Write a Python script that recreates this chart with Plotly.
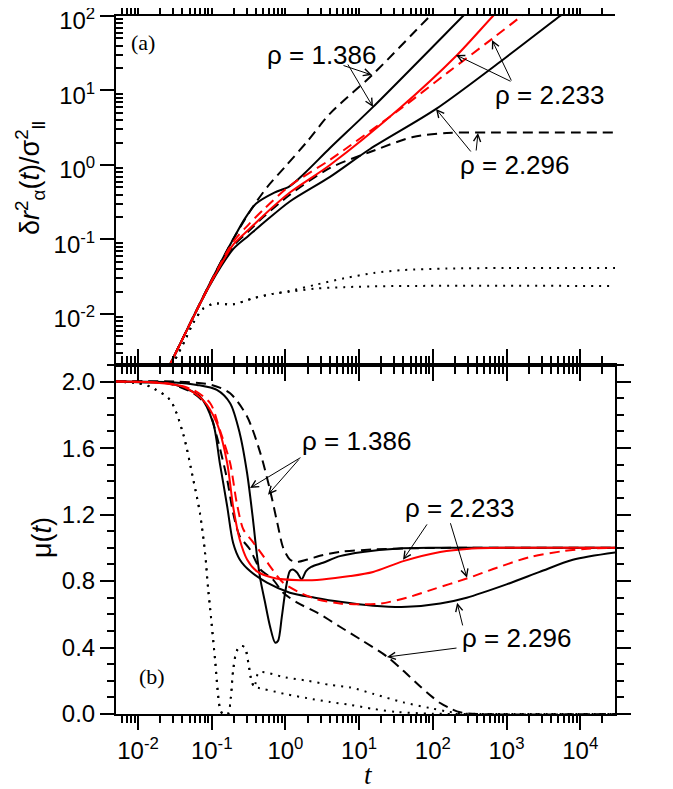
import numpy as np
import plotly.graph_objects as go
from plotly.subplots import make_subplots

# ---------------- panel (a): log10(t) vs log10(MSD) ----------------
a_d1386_logt = [-1.6, -1.0, -0.711, -0.48, -0.25, 0.0, 0.3, 0.605, 1.18, 1.962, 2.3]
a_d1386_logy = [-2.75, -1.54, -1.0, -0.62, -0.30, -0.02, 0.32, 0.69, 1.21, 2.0, 2.33]

a_s1386_logt = [-1.6, -1.0, -0.7, -0.55, -0.4, -0.15, 0.05, 0.25, 0.605, 1.19, 2.41, 2.6]
a_s1386_logy = [-2.75, -1.54, -0.98, -0.72, -0.52, -0.37, -0.29, -0.12, 0.228, 0.78, 2.0, 2.19]

a_d2233_logt = [-1.6, -1.0, -0.7, -0.5, -0.3, 0.06, 0.605, 1.596, 2.2, 2.8, 3.4]
a_d2233_logy = [-2.75, -1.55, -1.02, -0.80, -0.60, -0.28, 0.07, 0.778, 1.24, 1.69, 2.15]

a_s2233_logt = [-1.6, -1.0, -0.7, -0.5, -0.3, 0.06, 0.605, 1.555, 2.33, 2.817, 3.0]
a_s2233_logy = [-2.75, -1.56, -1.06, -0.87, -0.68, -0.37, 0.0, 0.765, 1.477, 2.0, 2.18]

a_d2296_logt = [-1.6, -1.0, -0.7, -0.5, -0.3, 0.06, 0.605, 1.148, 1.731, 2.19, 2.8, 4.5]
a_d2296_logy = [-2.75, -1.56, -1.08, -0.89, -0.70, -0.40, -0.04, 0.174, 0.376, 0.43, 0.435, 0.435]

a_s2296_logt = [-1.6, -1.0, -0.7, -0.5, -0.3, 0.06, 0.605, 1.148, 2.04, 3.0, 3.726, 4.0]
a_s2296_logy = [-2.75, -1.57, -1.12, -0.95, -0.78, -0.49, -0.16, 0.215, 0.75, 1.45, 2.0, 2.2]

a_dot_hi_logt = [-1.6, -1.5, -1.35, -1.25, -1.118, -1.0, -0.93, -0.71, -0.44, -0.17, 0.06,
                 0.4, 0.8, 1.2, 1.6, 2.2, 3.0, 4.5]
a_dot_hi_logy = [-2.78, -2.62, -2.33, -2.12, -1.93, -1.87, -1.86, -1.87, -1.79, -1.73, -1.69,
                 -1.61, -1.52, -1.45, -1.41, -1.39, -1.383, -1.383]
a_dot_lo_logt = [-1.6, -1.5, -1.35, -1.25, -1.118, -1.0, -0.93, -0.71, -0.44, -0.17, 0.06,
                 0.4, 0.8, 1.5, 4.5]
a_dot_lo_logy = [-2.78, -2.62, -2.33, -2.12, -1.93, -1.87, -1.86, -1.87, -1.79, -1.73, -1.70,
                 -1.66, -1.64, -1.625, -1.624]

# ---------------- panel (b): log10(t) vs mu(t) ----------------
b_d1386_logt = [-2.3, -1.5, -1.0, -0.75, -0.52, -0.34, -0.21, -0.11, -0.03, 0.06, 0.15,
                0.3, 0.5, 0.74, 1.2, 1.8, 2.5, 4.5]
b_d1386_mu = [2.0, 2.0, 1.98, 1.93, 1.79, 1.57, 1.35, 1.15, 1.0, 0.93, 0.915,
              0.93, 0.955, 0.976, 0.99, 0.998, 1.0, 1.0]

b_s1386_logt = [-2.3, -1.5, -1.2, -0.93, -0.75, -0.62, -0.52, -0.44, -0.39, -0.34, -0.28,
                -0.21, -0.14, -0.1, -0.05, 0.0, 0.06, 0.1, 0.16, 0.22, 0.28, 0.35, 0.51,
                0.74, 1.05, 1.5, 2.0, 4.5]
b_s1386_mu = [2.0, 1.995, 1.98, 1.95, 1.87, 1.69, 1.45, 1.17, 0.97, 0.81, 0.68,
              0.53, 0.43, 0.44, 0.58, 0.74, 0.86, 0.87, 0.85, 0.81, 0.86, 0.885, 0.91,
              0.95, 0.975, 0.995, 1.0, 1.0]

b_s2233_logt = [-2.3, -1.8, -1.39, -1.12, -0.93, -0.79, -0.71, -0.62, -0.52, -0.39, -0.17,
                0.2, 0.5, 0.88, 1.19, 1.6, 2.1, 2.5, 3.0, 4.5]
b_s2233_mu = [2.0, 1.995, 1.97, 1.89, 1.75, 1.51, 1.25, 1.05, 0.93, 0.86, 0.82,
              0.805, 0.81, 0.83, 0.855, 0.92, 0.975, 0.995, 1.0, 1.0]

b_d2233_logt = [-2.3, -1.6, -1.25, -1.02, -0.89, -0.75, -0.66, -0.57, -0.45, -0.3, -0.21,
                -0.03, 0.2, 0.43, 0.74, 1.05, 1.3, 1.65, 2.0, 2.46, 2.87, 3.32, 3.77, 4.1, 4.5]
b_d2233_mu = [2.0, 1.99, 1.95, 1.87, 1.71, 1.51, 1.27, 1.11, 1.04, 0.95, 0.89,
              0.79, 0.73, 0.69, 0.665, 0.66, 0.665, 0.70, 0.75, 0.815, 0.88, 0.945, 0.98, 0.995, 1.0]

b_d2296_logt = [-2.3, -1.6, -1.25, -1.06, -0.93, -0.79, -0.71, -0.62, -0.48, -0.34, -0.17,
                -0.03, 0.16, 0.43, 0.74, 1.05, 1.38, 1.6, 1.83, 2.0, 2.1, 2.23, 2.37, 2.6, 4.5]
b_d2296_mu = [2.0, 1.99, 1.93, 1.85, 1.67, 1.41, 1.21, 1.07, 0.99, 0.87, 0.81,
              0.73, 0.67, 0.61, 0.525, 0.44, 0.345, 0.26, 0.165, 0.10, 0.066, 0.035, 0.01, 0.0, 0.0]

b_s2296_logt = [-2.3, -1.9, -1.566, -1.16, -0.98, -0.89, -0.79, -0.71, -0.62, -0.48, -0.25,
                0.06, 0.4, 0.74, 1.19, 1.65, 2.1, 2.46, 3.0, 3.45, 3.9, 4.48]
b_s2296_mu = [2.0, 1.995, 1.99, 1.91, 1.75, 1.51, 1.25, 1.03, 0.93, 0.86, 0.79,
              0.73, 0.70, 0.675, 0.652, 0.645, 0.665, 0.70, 0.78, 0.855, 0.928, 0.972]

b_dot_head_logt = [-2.3, -2.0, -1.84, -1.566, -1.39, -1.25, -1.16, -1.09, -1.05, -1.02, -0.955,
                   -0.89, -0.85, -0.78, -0.74, -0.71, -0.66, -0.6, -0.55, -0.5, -0.46, -0.42]
b_dot_head_mu = [2.0, 1.99, 1.97, 1.89, 1.69, 1.41, 1.21, 0.97, 0.76, 0.63, 0.33,
                 0.04, 0.0, 0.0, 0.1, 0.26, 0.38, 0.41, 0.40, 0.30, 0.20, 0.16]
b_dot_hi_logt = [-0.36, 0.0, 0.3, 0.605, 0.88, 1.2, 1.6, 1.96, 2.2, 2.41, 3.0, 4.5]
b_dot_hi_mu = [0.25, 0.22, 0.20, 0.175, 0.16, 0.12, 0.07, 0.036, 0.015, 0.003, 0.0, 0.0]
b_dot_lo_logt = [-0.40, 0.0, 0.3, 0.605, 0.88, 1.2, 1.51, 2.0, 2.5, 4.5]
b_dot_lo_mu = [0.16, 0.12, 0.095, 0.072, 0.055, 0.03, 0.012, 0.002, 0.0, 0.0]

x_major = [1e-2, 1e-1, 1e0, 1e1, 1e2, 1e3, 1e4]
x_major_text = ["10<sup>-2</sup>", "10<sup>-1</sup>", "10<sup>0</sup>", "10<sup>1</sup>",
                "10<sup>2</sup>", "10<sup>3</sup>", "10<sup>4</sup>"]
ya_major = [1e-2, 1e-1, 1e0, 1e1, 1e2]
ya_major_text = ["10<sup>-2</sup>", "10<sup>-1</sup>", "10<sup>0</sup>", "10<sup>1</sup>", "10<sup>2</sup>"]
yb_major = [0.0, 0.4, 0.8, 1.2, 1.6, 2.0]
yb_major_text = ["0.0", "0.4", "0.8", "1.2", "1.6", "2.0"]

RED = "#ff0000"
BLK = "#000000"
DASH = "10px,6px"
DOT = "2px,6px"


def pw(v):
    return 10 ** np.asarray(v, dtype=float)


fig = make_subplots(rows=2, cols=1, shared_xaxes=True, vertical_spacing=0)


def add(logt, y, color, dash, row, logy=False):
    yy = pw(y) if logy else y
    fig.add_trace(go.Scatter(x=pw(logt), y=yy, mode="lines",
                             line=dict(color=color, width=2, dash=dash, shape="spline", smoothing=0.8),
                             showlegend=False, hoverinfo="skip"), row=row, col=1)


# panel (a)
add(a_dot_hi_logt, a_dot_hi_logy, BLK, DOT, 1, True)
add(a_dot_lo_logt, a_dot_lo_logy, BLK, DOT, 1, True)
add(a_d2296_logt, a_d2296_logy, BLK, DASH, 1, True)
add(a_s2296_logt, a_s2296_logy, BLK, "solid", 1, True)
add(a_d1386_logt, a_d1386_logy, BLK, DASH, 1, True)
add(a_s1386_logt, a_s1386_logy, BLK, "solid", 1, True)
add(a_s2233_logt, a_s2233_logy, RED, "solid", 1, True)
add(a_d2233_logt, a_d2233_logy, RED, DASH, 1, True)

# panel (b)
add(b_dot_head_logt + b_dot_hi_logt, b_dot_head_mu + b_dot_hi_mu, BLK, DOT, 2)
add(b_dot_head_logt + b_dot_lo_logt, b_dot_head_mu + b_dot_lo_mu, BLK, DOT, 2)
add(b_d2296_logt, b_d2296_mu, BLK, DASH, 2)
add(b_s2296_logt, b_s2296_mu, BLK, "solid", 2)
add(b_d1386_logt, b_d1386_mu, BLK, DASH, 2)
add(b_s1386_logt, b_s1386_mu, BLK, "solid", 2)
add(b_s2233_logt, b_s2233_mu, RED, "solid", 2)
add(b_d2233_logt, b_d2233_mu, RED, DASH, 2)

# axes
TICKFONT = dict(family="Liberation Sans", size=24, color=BLK)
axis_style = dict(showline=True, linecolor=BLK, linewidth=2, mirror="ticks", ticks="outside",
                  ticklen=14, tickwidth=1.5, tickcolor=BLK, showgrid=False, zeroline=False,
                  automargin=False, ticklabeloverflow="allow", tickfont=TICKFONT)
minor_style = dict(ticks="outside", ticklen=7, tickwidth=1.5, tickcolor=BLK, showgrid=False)

x_minor = [m * 10.0 ** e for e in range(-3, 5) for m in range(2, 10)]
ya_minor = [m * 10.0 ** e for e in range(-3, 2) for m in range(2, 10)]
YA_RANGE = [-2.685, 2.0]

for r in (1, 2):
    fig.update_xaxes(type="log", range=[-2.2985, 4.472], tickmode="array", tickvals=x_major,
                     ticktext=x_major_text, showticklabels=(r == 2),
                     minor=dict(tickmode="array", tickvals=x_minor, **minor_style),
                     row=r, col=1, **axis_style)

# top panel, left side: long ticks crossing the axis, short ticks inside
fig.update_yaxes(type="log", range=YA_RANGE, tickmode="array", tickvals=ya_major,
                 ticktext=ya_major_text, showline=True, linecolor=BLK, linewidth=2, mirror=False,
                 ticks="outside", ticklen=14, tickwidth=1.5, tickcolor=BLK, showgrid=False,
                 zeroline=False, automargin=False, ticklabeloverflow="allow", tickfont=TICKFONT,
                 ticklabelshift=5,
                 minor=dict(tickmode="array", tickvals=ya_minor, ticks="inside", ticklen=7,
                            tickwidth=1.5, tickcolor=BLK, showgrid=False),
                 row=1, col=1)
fig.update_yaxes(range=[0, 2.1], tickmode="array", tickvals=yb_major, ticktext=yb_major_text,
                 minor=dict(tick0=0, dtick=0.1, **minor_style), row=2, col=1, **axis_style)

fig.update_layout(
    # inner half of the long left ticks of panel (a)
    yaxis3=dict(type="log", range=YA_RANGE, overlaying="y", side="left", anchor="x",
                tickmode="array", tickvals=ya_major, ticks="inside", ticklen=12, tickwidth=1.5,
                tickcolor=BLK, showticklabels=False, showline=False, showgrid=False,
                zeroline=False, automargin=False),
    # right side of panel (a): all ticks outside
    yaxis4=dict(type="log", range=YA_RANGE, overlaying="y", side="right", anchor="x",
                tickmode="array", tickvals=ya_major, ticks="outside", ticklen=14, tickwidth=1.5,
                tickcolor=BLK, showticklabels=False, showline=True, linecolor=BLK, linewidth=2,
                showgrid=False, zeroline=False, automargin=False,
                minor=dict(tickmode="array", tickvals=ya_minor, **minor_style)),
)

# the page body adds an 8px offset, so the figure is sized to fill the rest of the window
fig.update_layout(width=665, height=781,
                  margin=dict(l=108, r=58, t=8, b=75, pad=0, autoexpand=False),
                  plot_bgcolor="white", paper_bgcolor="white", showlegend=False,
                  font=dict(family="Liberation Sans", size=24, color=BLK))

fig.update_yaxes(domain=[0.5, 1.0], row=1, col=1)
fig.update_yaxes(domain=[0.0, 0.5], row=2, col=1)
fig.update_layout(yaxis3_domain=[0.5, 1.0], yaxis4_domain=[0.5, 1.0])

ann = []
LBL = dict(family="Liberation Sans", size=26, color=BLK)


def label(text, x, y, xr, yr):
    ann.append(dict(text=text, x=x, y=y, xref=xr, yref=yr, showarrow=False, font=LBL,
                    xanchor="center", yanchor="middle"))


def arrow(x0, y0, x1, y1, xr, yr):
    ann.append(dict(text="", x=x1, y=y1, ax=x0, ay=y0, xref=xr, yref=yr, axref=xr, ayref=yr,
                    showarrow=True, arrowhead=5, arrowsize=1.4, arrowwidth=1, arrowcolor=BLK,
                    standoff=0, startstandoff=0))


# panel (a) labels (x in log10 t, y in log10 MSD)
label("ρ = 1.386", 0.483, 1.477, "x", "y")
arrow(0.768, 1.342, 1.175, 1.208, "x", "y")
arrow(0.836, 1.369, 1.189, 0.779, "x", "y")
label("ρ = 2.233", 3.59, 0.94, "x", "y")
arrow(3.075, 1.114, 2.315, 1.477, "x", "y")
arrow(3.075, 1.114, 2.803, 1.678, "x", "y")
label("ρ = 2.296", 3.115, 0.0, "x", "y")
arrow(2.532, 0.161, 2.043, 0.752, "x", "y")
arrow(2.586, 0.174, 2.613, 0.43, "x", "y")
ann.append(dict(text="(a)", x=-1.93, y=1.64, xref="x", yref="y", showarrow=False,
                font=dict(family="Liberation Serif", size=22, color=BLK)))

# panel (b) labels (x in log10 t, y in mu)
label("ρ = 1.386", 0.958, 1.64, "x2", "y2")
arrow(0.225, 1.548, -0.48, 1.36, "x2", "y2")
arrow(0.2, 1.54, -0.236, 1.32, "x2", "y2")
label("ρ = 2.233", 2.356, 1.24, "x2", "y2")
arrow(1.935, 1.15, 1.596, 0.928, "x2", "y2")
arrow(2.233, 1.157, 2.464, 0.82, "x2", "y2")
label("ρ = 2.296", 3.13, 0.458, "x2", "y2")
arrow(2.41, 0.524, 2.33, 0.669, "x2", "y2")
arrow(2.342, 0.398, 1.378, 0.343, "x2", "y2")
ann.append(dict(text="(b)", x=-1.81, y=0.223, xref="x2", yref="y2", showarrow=False,
                font=dict(family="Liberation Serif", size=22, color=BLK)))

# axis titles
ann.append(dict(text="δ<i>r</i><sup>2</sup><sub>α</sub>(<i>t</i>)/σ<sup>2</sup><sub>ll</sub>",
                x=(30 - 116) / 499, y=(714 - 178) / 698, xref="paper", yref="paper",
                textangle=-90, showarrow=False, xanchor="center", yanchor="middle",
                font=dict(family="Liberation Sans", size=27, color=BLK)))
ann.append(dict(text="μ(<i>t</i>)", x=(42 - 116) / 499, y=(714 - 538) / 698,
                xref="paper", yref="paper", textangle=-90, showarrow=False,
                xanchor="center", yanchor="middle",
                font=dict(family="Liberation Sans", size=27, color=BLK)))
ann.append(dict(text="<i>t</i>", x=(368 - 116) / 499, y=(714 - 775) / 698,
                xref="paper", yref="paper", showarrow=False, xanchor="center", yanchor="middle",
                font=dict(family="Liberation Serif", size=27, color=BLK)))

fig.update_layout(annotations=ann)
fig.write_html("out.html")
